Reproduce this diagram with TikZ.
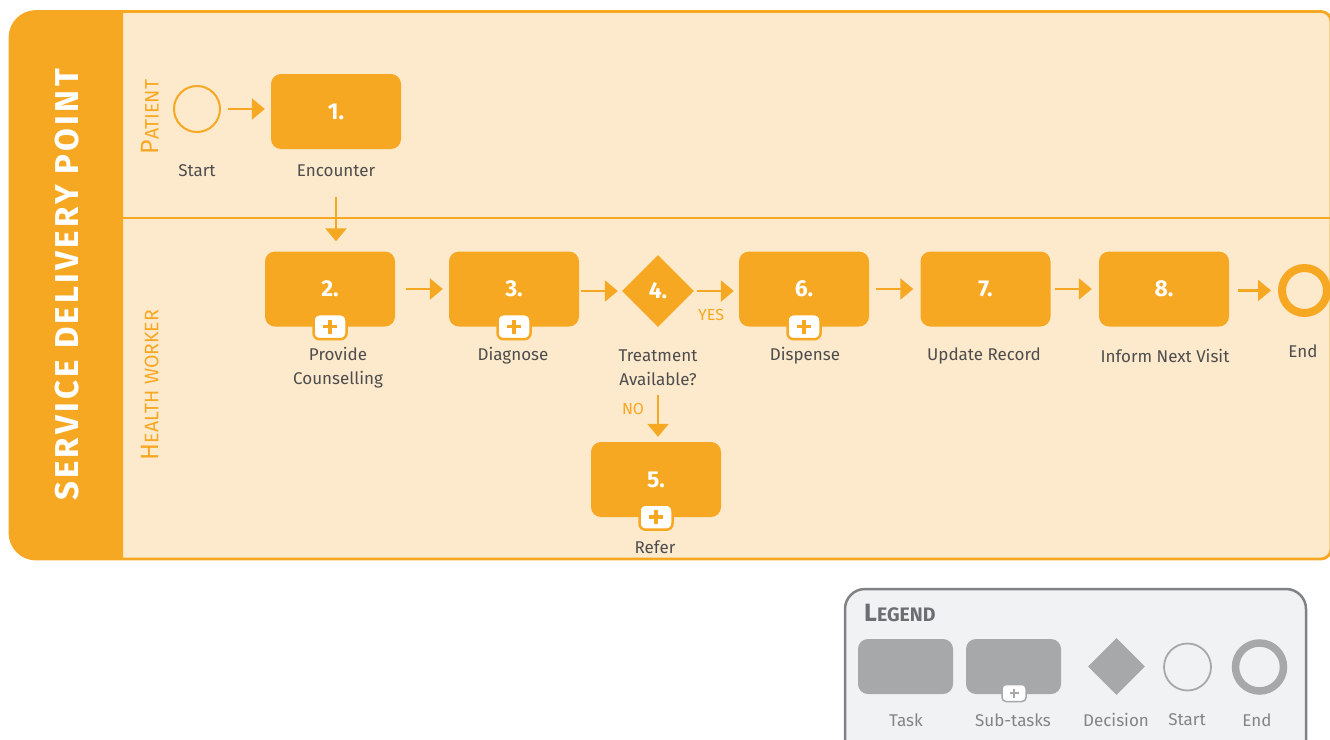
\documentclass[tikz,border=0pt]{standalone}
\usepackage{fontspec}
\setmainfont{Fira Sans}
\newfontfamily\titlefont[LetterSpace=10]{Fira Sans}
\usetikzlibrary{arrows.meta,shapes.geometric}
\definecolor{orng}{HTML}{F7A823}
\definecolor{poolfill}{HTML}{FDE9CC}
\definecolor{txtgray}{HTML}{4D4D4D}
\definecolor{leggray}{HTML}{A7A8AA}
\definecolor{legborder}{HTML}{808285}
\definecolor{legfill}{HTML}{F1F2F3}
\definecolor{legtext}{HTML}{6D6E71}
\newcommand{\laneSC}[2]{{\fontsize{25}{25}\selectfont #1}{\fontsize{19.5}{19}\selectfont #2}}
\begin{document}
\begin{tikzpicture}[x=1pt,y=-1pt,
  task/.style={rectangle, rounded corners=10pt, fill=orng, minimum width=130pt, minimum height=75pt, inner sep=0pt, text=white, font=\fontsize{23}{23}\selectfont\bfseries},
  plusbox/.style={rectangle, rounded corners=6pt, fill=white, draw=orng, line width=2.5pt, minimum width=33pt, minimum height=25pt, inner sep=0pt,
    path picture={\draw[orng, line width=3.5pt] ([xshift=-7pt]path picture bounding box.center) -- ([xshift=7pt]path picture bounding box.center);
                  \draw[orng, line width=3.5pt] ([yshift=-7pt]path picture bounding box.center) -- ([yshift=7pt]path picture bounding box.center);}},
  decision/.style={diamond, aspect=1, fill=orng, minimum width=72pt, minimum height=72pt, inner sep=0pt, text=white, font=\fontsize{23}{23}\selectfont\bfseries},
  startev/.style={circle, draw=orng, line width=2pt, minimum size=46pt, inner sep=0pt},
  endev/.style={circle, draw=orng, line width=8pt, minimum size=45pt, inner sep=0pt},
  lbl/.style={text=txtgray, font=\fontsize{17}{24}\selectfont, align=center, inner sep=0pt},
  flowlbl/.style={text=orng, font=\fontsize{16}{16}\selectfont, inner sep=0pt},
  flow/.style={draw=orng, line width=2.5pt, -{Triangle[length=13pt,width=21pt]}},
  lane/.style={text=orng, rotate=90, inner sep=0pt},
  ltask/.style={rectangle, rounded corners=10pt, fill=leggray, minimum width=95pt, minimum height=55pt, inner sep=0pt},
  lplus/.style={rectangle, rounded corners=4pt, fill=white, draw=leggray, line width=1.5pt, minimum width=24pt, minimum height=17pt, inner sep=0pt,
    path picture={\draw[leggray, line width=2pt] ([xshift=-4.5pt]path picture bounding box.center) -- ([xshift=4.5pt]path picture bounding box.center);
                  \draw[leggray, line width=2pt] ([yshift=-4.5pt]path picture bounding box.center) -- ([yshift=4.5pt]path picture bounding box.center);}},
  ldec/.style={diamond, aspect=1, fill=leggray, minimum width=57pt, minimum height=57pt, inner sep=0pt},
  lstart/.style={circle, draw=leggray, line width=1.8pt, minimum size=47pt, inner sep=0pt},
  lend/.style={circle, draw=leggray, line width=7.5pt, minimum size=48pt, inner sep=0pt},
  llbl/.style={text=legtext!85, font=\fontsize{17}{17}\selectfont, inner sep=0pt}
]
\useasboundingbox (0,0) rectangle (1330,739);

% pool
\filldraw[fill=poolfill, draw=orng, line width=2.8pt, rounded corners=10pt]
  (123,11.5) -- (1331,11.5) -- (1331,559) -- (123,559);
\filldraw[fill=orng, draw=orng, line width=2.8pt, rounded corners=26pt]
  (123,559) -- (10,559) -- (10,11.5) -- (123,11.5);
\draw[orng, line width=1.2pt] (123,218) -- (1331,218);

\node[rotate=90, text=white, inner sep=0pt, font=\titlefont\bfseries\fontsize{33}{33}\selectfont] (title) at (67,285) {SERVICE DELIVERY POINT};
\node[lane] (lpatient) at (150,117) {\laneSC{P}{ATIENT}};
\node[lane] (lhealth) at (150,385) {\laneSC{H}{EALTH WORKER}};

% nodes
\node[startev] (start) at (197,109) {};
\node[task] (t1) at (336,111.5) {1.};
\node[task] (t2) at (330,289) {2.};
\node[task] (t3) at (514,289) {3.};
\node[decision] (d4) at (658,291) {4.};
\node[task] (t6) at (804,289) {6.};
\node[task] (t7) at (985.5,289) {7.};
\node[task] (t8) at (1164,289) {8.};
\node[endev] (end) at (1304.5,290.5) {};
\node[task] (t5) at (656,479.5) {5.};

\node[plusbox] (p2) at (t2.south) {};
\node[plusbox] (p3) at (t3.south) {};
\node[plusbox] (p6) at (t6.south) {};
\node[plusbox] (p5) at (t5.south) {};

% labels
\node[lbl] (lstartt) at (197,171) {Start};
\node[lbl] (lt1) at (336,171) {Encounter};
\node[lbl] (lt2) at (338,368) {Provide\\Counselling};
\node[lbl] (lt3) at (513,356) {Diagnose};
\node[lbl] (ld4) at (658,368) {Treatment\\Available?};
\node[lbl] (lt6) at (805,356) {Dispense};
\node[lbl] (lt7) at (984,356) {Update Record};
\node[lbl] (lt8) at (1165,356) {Inform Next Visit};
\node[lbl] (lend) at (1303,351) {End};
\node[lbl] (lt5) at (655,547) {Refer};

% flows
\draw[flow, shorten <=7pt, shorten >=6pt] (start) -- (t1.west |- start);
\draw[flow, shorten <=48pt, shorten >=10pt] (t1.south) -- (t1.south |- t2.north);
\draw[flow, shorten <=11pt, shorten >=6pt] (t2.east) -- (t3.west);
\draw[flow, shorten <=2pt, shorten >=4pt] (t3.east |- d4.west) -- (d4.west);
\draw[flow, shorten <=3pt, shorten >=5pt] (d4.east) -- (t6.west |- d4.east);
\draw[flow, shorten <=7pt, shorten >=7pt] (t6.east) -- (t7.west);
\draw[flow, shorten <=4pt, shorten >=7pt] (t7.east) -- (t8.west);
\draw[flow, shorten <=9pt, shorten >=7pt] (t8.east |- end.west) -- (end.west);
\draw[flow, shorten <=68pt, shorten >=5pt] (d4.south) -- (d4.south |- t5.north);
\node[flowlbl] (yes) at (711,315) {YES};
\node[flowlbl] (no) at (633,409) {NO};

% legend
\filldraw[fill=legfill, draw=legborder, line width=2.5pt, rounded corners=20pt] (845,589) rectangle (1306,770);
\node[anchor=west, text=legtext, inner sep=0pt, font=\bfseries] (legtitle) at (864,613) {{\fontsize{25}{25}\selectfont L}{\fontsize{19.5}{19}\selectfont EGEND}};
\node[ltask] (lgtask) at (905.5,666.5) {};
\node[ltask] (lgsub) at (1013.5,666.5) {};
\node[lplus] (lgplus) at (1014,693) {};
\node[ldec] (lgdec) at (1116.5,666.5) {};
\node[lstart] (lgstart) at (1187.5,667) {};
\node[lend] (lgend) at (1259.5,667) {};
\node[llbl] at (906,720) {Task};
\node[llbl] at (1013,720) {Sub-tasks};
\node[llbl] at (1116,720) {Decision};
\node[llbl] at (1187,720) {Start};
\node[llbl] at (1257,720) {End};
\end{tikzpicture}
\end{document}
